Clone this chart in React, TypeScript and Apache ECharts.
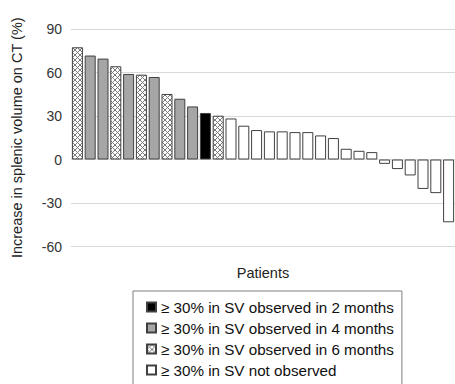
import React, { useEffect, useRef } from "react";
import * as echarts from "echarts";

const categories = ["1","2","3","4","5","6","7","8","9","10","11","12","13","14","15","16","17","18","19","20","21","22","23","24","25","26","27","28","29","30"];
const values = [77.4, 71.7, 69.6, 64.3, 59.0, 58.5, 56.9, 45.2, 41.9, 36.6, 32.1, 30.2, 28.3, 23.3, 20.3, 19.4, 19.4, 18.9, 18.9, 16.6, 14.8, 7.4, 6.0, 5.1, -3.0, -6.6, -11.0, -20.3, -23.2, -43.3];
const groups = ["m6","m4","m4","m6","m4","m6","m4","m6","m4","m4","m2","m6","no","no","no","no","no","no","no","no","no","no","no","no","no","no","no","no","no","no"];
const groupKeys = ["m2", "m4", "m6", "no"];
const groupNames = [
  "≥ 30% in SV observed in 2 months",
  "≥ 30% in SV observed in 4 months",
  "≥ 30% in SV observed in 6 months",
  "≥ 30% in SV not observed",
];
const yTicks = { min: -60, max: 90, interval: 30 };

const FONT = "'Liberation Sans', Arial, sans-serif";

function makeHatch(): HTMLCanvasElement {
  const n = 5;
  const c = document.createElement("canvas");
  c.width = n;
  c.height = n;
  const ctx = c.getContext("2d")!;
  ctx.fillStyle = "#ffffff";
  ctx.fillRect(0, 0, n, n);
  ctx.fillStyle = "#7a7a7a";
  for (let i = 0; i < n; i++) {
    ctx.fillRect(i, i, 1, 1);
    ctx.fillRect(n - 1 - i, i, 1, 1);
  }
  return c;
}

export default function App() {
  const ref = useRef<HTMLDivElement>(null);
  useEffect(() => {
    if (!ref.current) return;
    const chart = echarts.init(ref.current, undefined, { renderer: "svg" });
    const hatch = makeHatch();
    const fills: any[] = ["#000000", "#a6a6a6", { image: hatch, repeat: "repeat" }, "#ffffff"];
    const series = groupKeys.map((k, gi) => ({
      name: groupNames[gi],
      type: "bar",
      barWidth: 11,
      barGap: "-100%",
      data: values.map((v, i) => (groups[i] === k ? v : "-")),
      itemStyle: { color: fills[gi], borderColor: "#404040", borderWidth: 1 },
    }));
    chart.setOption({
      animation: false,
      textStyle: { fontFamily: FONT },
      grid: { left: 71, top: 29, width: 393, height: 217.5 },
      legend: {
        orient: "vertical",
        left: 133,
        top: 291,
        height: 120,
        padding: [8, 8, 12, 13],
        borderColor: "#7f7f7f",
        borderWidth: 1,
        itemWidth: 9,
        itemHeight: 9,
        itemGap: 5,
        icon: "rect",
        textStyle: { fontSize: 15.2, color: "#111", fontFamily: FONT, lineHeight: 16 },
        data: groupNames,
      },
      xAxis: {
        type: "category",
        data: categories,
        axisLine: { show: false },
        axisTick: { show: false },
        axisLabel: { show: false },
        splitLine: { show: false },
        name: "Patients",
        nameLocation: "middle",
        nameGap: 19,
        nameTextStyle: { fontSize: 14.5, color: "#222", fontFamily: FONT },
      },
      yAxis: {
        type: "value",
        min: yTicks.min,
        max: yTicks.max,
        interval: yTicks.interval,
        axisLine: { show: false },
        axisTick: { show: false },
        axisLabel: { fontSize: 14, color: "#333", margin: 9, fontFamily: FONT },
        splitLine: { lineStyle: { color: "#d9d9d9", width: 1 } },
        name: "Increase in splenic volume on CT (%)",
        nameLocation: "middle",
        nameGap: 47,
        nameTextStyle: { fontSize: 14.5, color: "#222", fontFamily: FONT },
      },
      series,
    });
    return () => chart.dispose();
  }, []);
  return (
    <div
      ref={ref}
      style={{ position: "absolute", left: 0, top: 0, width: 455, height: 384, overflow: "hidden" }}
    />
  );
}
